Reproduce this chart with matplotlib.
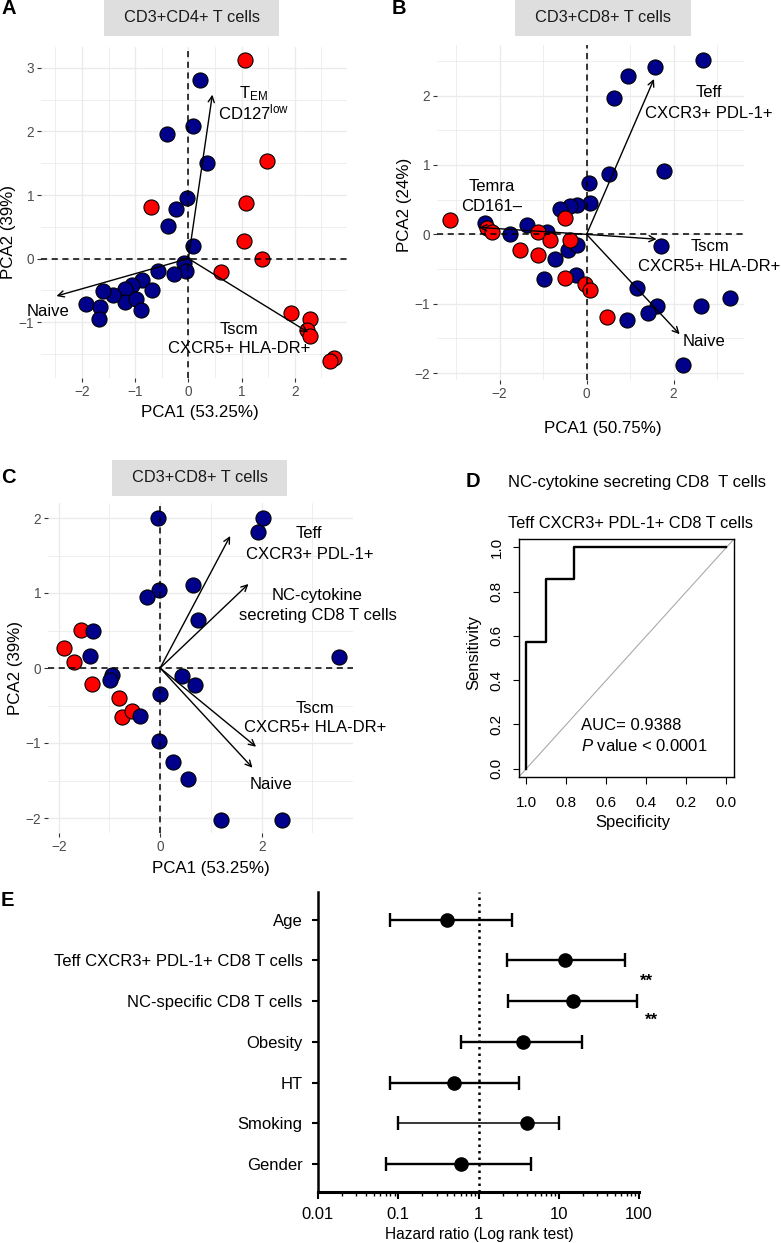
import numpy as np
import matplotlib
matplotlib.use("Agg")
import matplotlib.pyplot as plt

plt.rcParams['font.family'] = ['Liberation Sans', 'DejaVu Sans']
plt.rcParams['mathtext.fontset'] = 'custom'
plt.rcParams['mathtext.rm'] = 'Liberation Sans'
plt.rcParams['mathtext.it'] = 'Liberation Sans:italic'

W, H = 781, 1243
BLUE = '#00008B'
RED = '#FF0000'
GRID = '#EBEBEB'

# ---------------- data ----------------
# panel A : CD3+CD4+
a_blue_x = [0.21, 0.09, -0.41, 0.34, -0.02, -0.23, -0.38, 0.08, -0.09, -0.04, -0.27, -0.57,
            -0.88, -0.69, -1.06, -1.19, -1.19, -0.98, -0.89, -1.41, -1.60, -1.92, -1.66, -1.68]
a_blue_y = [2.81, 2.09, 1.96, 1.50, 0.96, 0.78, 0.52, 0.19, -0.07, -0.20, -0.24, -0.20,
            -0.34, -0.50, -0.41, -0.48, -0.68, -0.64, -0.81, -0.57, -0.51, -0.72, -0.76, -0.95]
a_red_x = [1.06, 1.47, 1.08, 1.05, 1.39, -0.70, 0.61, 1.93, 2.28, 2.22, 2.28, 2.73, 2.66]
a_red_y = [3.12, 1.53, 0.88, 0.27, 0.0, 0.81, -0.21, -0.86, -0.95, -1.12, -1.22, -1.57, -1.62]
a_load_x = [0.45, -2.48, 2.25]
a_load_y = [2.58, -0.59, -1.16]

# panel B : CD3+CD8+
b_blue_x = [2.67, 1.58, 0.95, 0.64, 1.78, 0.51, 0.05, 0.08, -0.23, -0.38, -0.61, 1.72, 1.15, 1.61,
            1.42, 0.92, 2.64, 3.29, 2.22, -0.98, -0.25, -0.73, -0.42, -0.23, -0.92, -1.38, -1.76, -2.34]
b_blue_y = [2.52, 2.42, 2.29, 1.97, 0.91, 0.87, 0.74, 0.45, 0.42, 0.41, 0.37, -0.17, -0.78, -1.04,
            -1.14, -1.23, -1.03, -0.92, -1.88, -0.64, -0.59, -0.36, -0.23, -0.15, 0.04, 0.13, 0.01, 0.16]
b_red_x = [-3.14, -2.30, -2.18, -1.53, -1.11, -1.11, -0.84, -0.50, -0.37, -0.50, -0.04, 0.08, 0.47]
b_red_y = [0.21, 0.09, 0.04, -0.23, -0.30, 0.04, -0.08, 0.23, -0.08, -0.63, -0.71, -0.80, -1.19]
b_load_x = [1.55, -2.47, 1.61, 2.14]
b_load_y = [2.24, 0.10, -0.07, -1.44]

# panel C : CD3+CD8+
c_blue_x = [-0.05, 2.02, 1.92, 0.64, -0.03, -0.26, 0.74, -1.33, -1.38, 3.52, -0.95, -0.98, 0.43,
            0.68, 0.0, -0.39, -0.02, 0.25, 0.54, 1.20, 2.41]
c_blue_y = [2.0, 2.0, 1.81, 1.11, 1.04, 0.95, 0.64, 0.49, 0.16, 0.15, -0.09, -0.16, -0.11,
            -0.22, -0.35, -0.64, -0.97, -1.25, -1.48, -2.02, -2.02]
c_red_x = [-1.56, -1.90, -1.69, -1.34, -0.82, -0.76, -0.56]
c_red_y = [0.51, 0.27, 0.08, -0.21, -0.40, -0.65, -0.57]
c_load_x = [1.38, 1.74, 1.89, 1.82]
c_load_y = [1.76, 1.12, -1.05, -1.33]

# panel D : ROC
roc_spec = [1.0, 1.0, 0.903, 0.903, 0.762, 0.762, 0.0]
roc_sens = [0.0, 0.571, 0.571, 0.857, 0.857, 1.0, 1.0]

# panel E : hazard ratios
e_labels = ['Age', 'Teff CXCR3+ PDL-1+ CD8 T cells', 'NC-specific CD8 T cells',
            'Obesity', 'HT', 'Smoking', 'Gender']
e_hr = [0.40, 12.0, 14.9, 3.55, 0.50, 3.98, 0.60]
e_lo = [0.079, 2.24, 2.34, 0.61, 0.079, 0.10, 0.070]
e_hi = [2.59, 67.3, 93.6, 19.3, 3.2, 10.0, 4.46]

fig = plt.figure(figsize=(W / 100, H / 100), dpi=100)


def add_ax(l, t, r, b):
    return fig.add_axes([l / W, 1 - b / H, (r - l) / W, (b - t) / H])


def ftext(x, y, s, **kw):
    fig.text(x / W, 1 - y / H, s, **kw)


def strip(l, t, r, b, s):
    fig.patches.append(plt.Rectangle((l / W, 1 - b / H), (r - l) / W, (b - t) / H,
                                     transform=fig.transFigure, facecolor='#DEDEDE',
                                     edgecolor='none', zorder=0))
    ftext((l + r) / 2, (t + b) / 2, s, ha='center', va='center', fontsize=11.8, color='#1A1A1A')


def pca_panel(ax, bx, by, rx, ry, lx, ly, xlim, ylim, xmaj, xmin, ymaj, ymin, red_first=False):
    ax.set_xlim(xlim)
    ax.set_ylim(ylim)
    for s in ax.spines.values():
        s.set_visible(False)
    ax.set_xticks(xmaj)
    ax.set_xticks(xmin, minor=True)
    ax.set_yticks(ymaj)
    ax.set_yticks(ymin, minor=True)
    ax.grid(True, which='major', color=GRID, lw=1.0, zorder=0)
    ax.grid(True, which='minor', color=GRID, lw=0.6, zorder=0)
    ax.set_axisbelow(True)
    ax.tick_params(which='major', length=2.8, width=0.8, color='#333333', labelsize=9.8,
                   labelcolor='#4D4D4D', pad=2)
    ax.tick_params(which='minor', length=0)
    groups = [(bx, by, BLUE), (rx, ry, RED)]
    if red_first:
        groups = groups[::-1]
    for x, y, c in groups:
        ax.scatter(x, y, s=118, c=c, edgecolors='black', linewidths=0.8, zorder=2)
    ax.axhline(0, color='black', ls=(0, (4, 3)), lw=1.1, zorder=3)
    ax.axvline(0, color='black', ls=(0, (4, 3)), lw=1.1, zorder=3)
    for x, y in zip(lx, ly):
        ax.annotate('', xy=(x, y), xytext=(0, 0),
                    arrowprops=dict(arrowstyle='->', lw=1.0, color='black',
                                    shrinkA=0, shrinkB=0, mutation_scale=11), zorder=4)


lab = dict(ha='center', va='center', fontsize=12, color='black')

# ---------------- panel A ----------------
axA = add_ax(41, 47, 347, 378)
pca_panel(axA, a_blue_x, a_blue_y, a_red_x, a_red_y, a_load_x, a_load_y,
          (-2.77, 2.98), (-1.88, 3.33), [-2, -1, 0, 1, 2], [-2.5, -1.5, -0.5, 0.5, 1.5, 2.5],
          [-1, 0, 1, 2, 3], [-1.5, -0.5, 0.5, 1.5, 2.5])
axA.text(1.22, 2.60, r'T$_{\mathrm{EM}}$', **lab)
axA.text(1.22, 2.30, r'CD127$^{\mathrm{low}}$', **lab)
axA.text(-2.64, -0.83, 'Naive', clip_on=False, **lab)
axA.text(0.945, -1.11, 'Tscm', **lab)
axA.text(0.945, -1.41, 'CXCR5+ HLA-DR+', **lab)
strip(104, 0, 279, 36, 'CD3+CD4+ T cells')
ftext(200, 412, 'PCA1 (53.25%)', ha='center', va='center', fontsize=12.2)
ftext(9, 232, 'PCA2 (39%)', ha='center', va='center', fontsize=12.2, rotation=90)
ftext(1, 8, 'A', ha='left', va='center', fontsize=14.5, fontweight='bold')

# ---------------- panel B ----------------
axB = add_ax(437, 45, 744, 380)
pca_panel(axB, b_blue_x, b_blue_y, b_red_x, b_red_y, b_load_x, b_load_y,
          (-3.44, 3.62), (-2.10, 2.73), [-2, 0, 2], [-3, -1, 1, 3],
          [-2, -1, 0, 1, 2], [-1.5, -0.5, 0.5, 1.5, 2.5])
axB.text(2.82, 2.04, 'Teff', **lab)
axB.text(2.82, 1.74, 'CXCR3+ PDL-1+', clip_on=False, **lab)
axB.text(-2.18, 0.69, 'Temra', **lab)
axB.text(-2.18, 0.40, 'CD161\u2013', **lab)
axB.text(2.83, -0.17, 'Tscm', **lab)
axB.text(2.82, -0.46, 'CXCR5+ HLA-DR+', clip_on=False, **lab)
axB.text(2.70, -1.55, 'Naive', **lab)
strip(515, 0, 691, 36, 'CD3+CD8+ T cells')
ftext(603, 428, 'PCA1 (50.75%)', ha='center', va='center', fontsize=12.2)
ftext(405, 205, 'PCA2 (24%)', ha='center', va='center', fontsize=12.2, rotation=90)
ftext(392, 8, 'B', ha='left', va='center', fontsize=14.5, fontweight='bold')

# ---------------- panel C ----------------
axC = add_ax(48, 503, 353, 833)
pca_panel(axC, c_blue_x, c_blue_y, c_red_x, c_red_y, c_load_x, c_load_y,
          (-2.21, 3.80), (-2.2, 2.2), [-2, 0, 2], [-1, 1, 3],
          [-2, -1, 0, 1, 2], [-1.5, -0.5, 0.5, 1.5], red_first=True)
axC.text(2.94, 1.79, 'Teff', **lab)
axC.text(2.94, 1.51, 'CXCR3+ PDL-1+', clip_on=False, **lab)
axC.text(3.10, 0.97, 'NC-cytokine', clip_on=False, **lab)
axC.text(3.10, 0.70, 'secreting CD8 T cells', clip_on=False, **lab)
axC.text(3.05, -0.54, 'Tscm', **lab)
axC.text(3.05, -0.80, 'CXCR5+ HLA-DR+', clip_on=False, **lab)
axC.text(2.19, -1.55, 'Naive', **lab)
strip(112, 460, 287, 496, 'CD3+CD8+ T cells')
ftext(211, 868, 'PCA1 (53.25%)', ha='center', va='center', fontsize=12.2)
ftext(16, 668, 'PCA2 (39%)', ha='center', va='center', fontsize=12.2, rotation=90)
ftext(1, 478, 'C', ha='left', va='center', fontsize=14.5, fontweight='bold')

# ---------------- panel D ----------------
axD = add_ax(519, 539, 734, 777)
axD.set_xlim(1.037, -0.038)
axD.set_ylim(-0.038, 1.038)
axD.plot(roc_spec, roc_sens, color='black', lw=1.7, zorder=3)
axD.axline((1, 0), (0, 1), color='#AAAAAA', lw=0.8, zorder=2)
for s in axD.spines.values():
    s.set_linewidth(1.0)
ticks = [1.0, 0.8, 0.6, 0.4, 0.2, 0.0]
axD.set_xticks(ticks)
axD.set_xticklabels([f'{t:.1f}' for t in ticks])
axD.set_yticks(ticks)
axD.set_yticklabels([f'{t:.1f}' for t in ticks], rotation=90, va='center')
axD.tick_params(axis='x', length=5, width=0.8, labelsize=11, pad=9)
axD.tick_params(axis='y', length=4, width=0.8, labelsize=11, pad=7)
axD.text(0.725, 0.196, 'AUC= 0.9388', ha='left', va='center', fontsize=12)
axD.text(0.725, 0.102, r'$P$ value < 0.0001', ha='left', va='center', fontsize=12)
ftext(637, 483, 'NC-cytokine secreting CD8  T cells', ha='center', va='center', fontsize=12)
ftext(631, 523, 'Teff CXCR3+ PDL-1+ CD8 T cells', ha='center', va='center', fontsize=11.8)
ftext(633, 822, 'Specificity', ha='center', va='center', fontsize=12)
ftext(474, 653, 'Sensitivity', ha='center', va='center', fontsize=12, rotation=90)
ftext(466, 482, 'D', ha='left', va='center', fontsize=14.5, fontweight='bold')

# ---------------- panel E ----------------
axE = add_ax(318, 892, 639, 1192)
rows = np.arange(len(e_labels))
for i in rows:
    lw = 1.1 if e_labels[i] == 'Smoking' else 1.7
    axE.errorbar(e_hr[i], i, xerr=[[e_hr[i] - e_lo[i]], [e_hi[i] - e_hr[i]]], fmt='o',
                 color='black', ms=9.5, lw=lw, capsize=5, capthick=1.7, zorder=3)
axE.set_xscale('log')
axE.set_xlim(0.01, 100)
axE.set_ylim(6.686, -0.676)
axE.axvline(1, color='black', ls=(0, (1, 1.6)), lw=1.8, zorder=2)
axE.spines['top'].set_visible(False)
axE.spines['right'].set_visible(False)
axE.spines['left'].set_linewidth(1.8)
axE.spines['bottom'].set_linewidth(2.2)
axE.set_yticks(rows)
axE.set_yticklabels(e_labels)
axE.set_xticks([0.01, 0.1, 1, 10, 100])
axE.set_xticklabels(['0.01', '0.1', '1', '10', '100'])
axE.tick_params(axis='y', length=4, width=1.5, labelsize=12, pad=7)
axE.tick_params(axis='x', which='major', length=5, width=1.5, labelsize=12, pad=6)
axE.tick_params(axis='x', which='minor', length=3, width=1.0)
axE.text(125, 1.51, '**', ha='center', va='center', fontsize=12, fontweight='bold', clip_on=False)
axE.text(144, 2.47, '**', ha='center', va='center', fontsize=12, fontweight='bold', clip_on=False)
ftext(479, 1235, 'Hazard ratio (Log rank test)', ha='center', va='center', fontsize=11.2)
ftext(1, 900, 'E', ha='left', va='center', fontsize=14.5, fontweight='bold')

fig.savefig('out.png', dpi=100)
